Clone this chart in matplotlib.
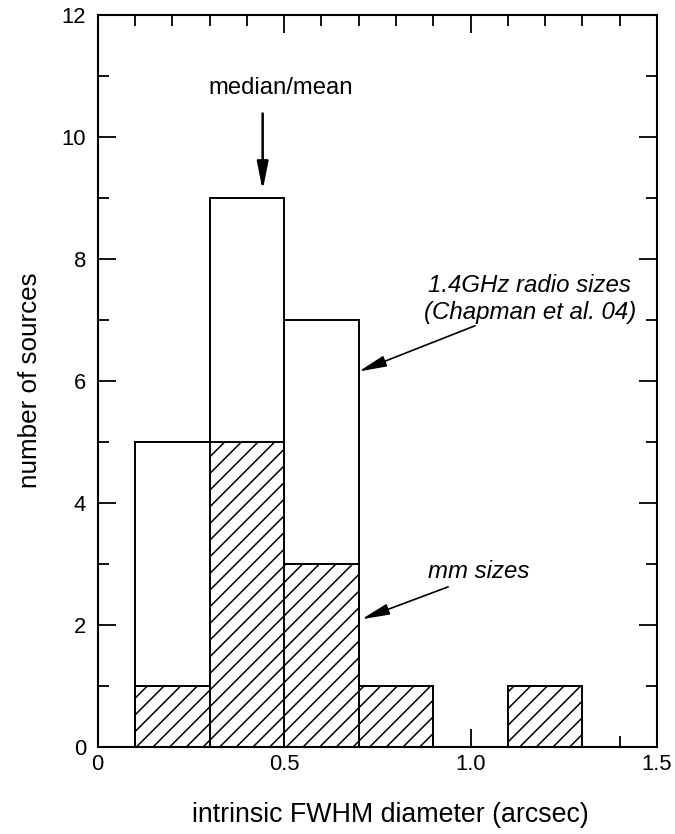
import matplotlib
matplotlib.use("Agg")
import matplotlib.pyplot as plt
from matplotlib.ticker import MultipleLocator, FixedLocator, FixedFormatter

# Data
bin_edges = [0.1, 0.3, 0.5, 0.7, 0.9, 1.1, 1.3]
radio_counts = [5, 9, 7, 0, 0, 0]
mm_counts = [1, 5, 3, 1, 0, 1]
xtick_vals = [0, 0.5, 1.0, 1.5]
xtick_labels = ["0", "0.5", "1.0", "1.5"]
ytick_vals = [0, 2, 4, 6, 8, 10, 12]

plt.rcParams['font.family'] = ['Liberation Sans', 'DejaVu Sans']
plt.rcParams['hatch.linewidth'] = 1.1

fig = plt.figure(figsize=(6.75, 8.34), dpi=100)
ax = fig.add_axes([0.1447, 0.1047, 0.9733 - 0.1447, 0.9824 - 0.1047])

lefts = bin_edges[:-1]
widths = [b - a for a, b in zip(bin_edges[:-1], bin_edges[1:])]

# radio histogram (open bars)
for x0, w, c in zip(lefts, widths, radio_counts):
    if c > 0:
        ax.bar(x0, c, width=w, align='edge', facecolor='white',
               edgecolor='black', linewidth=1.4, zorder=2)
# mm histogram (hatched)
for x0, w, c in zip(lefts, widths, mm_counts):
    if c > 0:
        ax.bar(x0, c, width=w, align='edge', facecolor='white',
               edgecolor='black', hatch='//', linewidth=1.4, zorder=3)

ax.set_xlim(0, 1.5)
ax.set_ylim(0, 12)
ax.xaxis.set_major_locator(FixedLocator(xtick_vals))
ax.xaxis.set_major_formatter(FixedFormatter(xtick_labels))
ax.xaxis.set_minor_locator(MultipleLocator(0.1))
ax.yaxis.set_major_locator(FixedLocator(ytick_vals))
ax.yaxis.set_minor_locator(MultipleLocator(1))
ax.tick_params(which='both', direction='in', top=True, right=True,
               labelsize=15.8, width=1.3)
ax.tick_params(which='major', length=13)
ax.tick_params(which='minor', length=8)
ax.tick_params(axis='x', which='major', pad=5)
ax.tick_params(axis='y', which='major', pad=8.4)
for s in ax.spines.values():
    s.set_linewidth(1.5)
    s.set_zorder(5)

ax.set_xlabel("intrinsic FWHM diameter (arcsec)", fontsize=19.3, labelpad=20,
              x=0.524)
ax.set_ylabel("number of sources", fontsize=18.7, labelpad=14)

# annotations
ax.text(0.49, 10.8, "median/mean", fontsize=17.2, ha='center', va='center')
ax.annotate("", xy=(0.4425, 9.12), xytext=(0.4425, 10.38),
            arrowprops=dict(arrowstyle='-|>,head_length=0.85,head_width=0.17',
                            color='black', lw=1.8, mutation_scale=20,
                            shrinkA=0, shrinkB=0))

ax.text(1.159, 7.34, "1.4GHz radio sizes\n(Chapman et al. 04)", fontsize=17.3,
        style='italic', ha='center', va='center', linespacing=1.25)
ax.annotate("", xy=(0.70, 6.15), xytext=(1.012, 6.9),
            arrowprops=dict(arrowstyle='-|>,head_length=0.85,head_width=0.17',
                            color='black', lw=1.2, mutation_scale=20,
                            shrinkA=0, shrinkB=0))

ax.text(1.022, 2.87, "mm sizes", fontsize=17.3, style='italic',
        ha='center', va='center')
ax.annotate("", xy=(0.708, 2.09), xytext=(0.94, 2.62),
            arrowprops=dict(arrowstyle='-|>,head_length=0.85,head_width=0.17',
                            color='black', lw=1.2, mutation_scale=20,
                            shrinkA=0, shrinkB=0))

fig.savefig("out.png", dpi=100)
